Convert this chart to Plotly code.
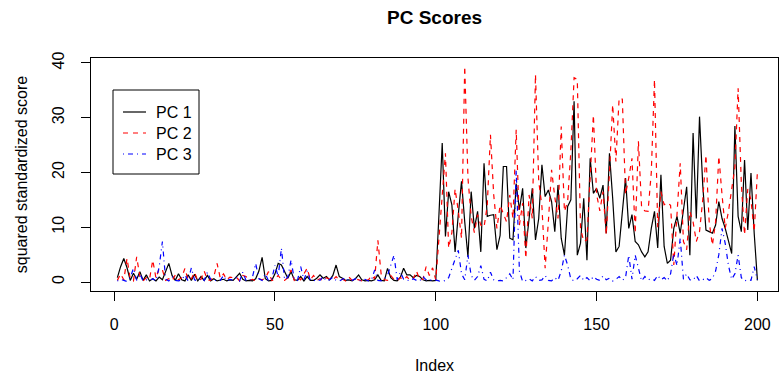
import plotly.graph_objects as go

# Observation index
index = list(range(1, 201))

# Squared standardized scores for the first three principal components
pc1 = [
    0.8, 2.8, 4.3, 2.6, 0.3, 1.6, 0.5, 1.9, 0.3, 1.3,
    0.2, 0.6, 0.2, 0.9, 0.4, 1.8, 3.4, 1.2, 0.3, 1.5,
    0.4, 0.2, 1.3, 0.3, 1.4, 0.2, 1.0, 0.3, 1.2, 0.2,
    0.6, 0.2, 0.3, 0.5, 0.2, 0.4, 0.3, 1.0, 1.6, 0.5,
    0.2, 0.3, 0.2, 0.6, 2.0, 4.5, 0.6, 0.2, 0.3, 1.5,
    3.4, 3.1, 1.9, 0.7, 1.9, 0.4, 0.3, 1.0, 0.2, 1.0,
    0.3, 0.3, 0.7, 1.3, 0.7, 1.0, 0.4, 1.2, 3.1, 1.0,
    0.7, 0.3, 0.4, 0.2, 0.6, 1.3, 0.4, 0.2, 0.3, 0.2,
    0.4, 1.3, 0.3, 0.2, 2.5, 0.8, 0.3, 0.2, 0.9, 2.5,
    1.3, 1.3, 0.8, 1.2, 1.0, 0.4, 0.2, 0.3, 0.2, 0.3,
    12.5, 25.4, 8.3, 16.5, 14.1, 5.5, 12.3, 18.4, 11.0, 4.6,
    16.5, 9.8, 12.9, 5.5, 21.7, 12.0, 12.2, 12.3, 5.9, 8.5,
    21.1, 21.1, 8.0, 7.7, 18.0, 13.2, 17.1, 6.2, 11.5, 17.1,
    7.7, 11.6, 21.4, 15.6, 16.8, 14.7, 9.2, 17.7, 8.0, 4.9,
    13.8, 15.0, 33.0, 4.9, 7.1, 15.3, 4.0, 22.6, 16.2, 17.1,
    15.3, 17.7, 8.9, 23.5, 15.3, 5.5, 6.5, 13.0, 19.0, 9.8,
    12.3, 7.4, 6.8, 5.5, 4.6, 5.5, 9.8, 12.9, 6.2, 19.6,
    6.5, 3.4, 4.0, 9.8, 12.0, 8.9, 13.0, 17.4, 4.9, 27.2,
    11.6, 30.2, 17.7, 9.5, 9.2, 8.9, 10.4, 14.7, 11.6, 9.8,
    7.5, 5.2, 28.5, 12.0, 9.2, 22.3, 9.5, 19.9, 8.9, 0.3,
]

pc2 = [
    0.3, 1.5, 0.4, 4.3, 0.6, 0.2, 4.6, 1.0, 0.2, 0.8,
    0.5, 4.0, 0.7, 2.5, 2.2, 0.3, 0.6, 0.2, 1.3, 0.4,
    0.8, 2.5, 0.3, 0.6, 1.8, 0.2, 0.5, 2.0, 0.4, 0.3,
    1.0, 3.4, 0.7, 1.5, 0.4, 0.9, 0.8, 0.9, 0.2, 1.2,
    1.0, 0.3, 0.5, 0.2, 0.6, 0.4, 0.7, 1.9, 0.3, 0.5,
    1.2, 0.4, 0.3, 0.8, 2.2, 0.3, 0.9, 0.4, 1.5, 2.5,
    0.4, 1.2, 0.3, 0.6, 0.2, 0.8, 0.5, 0.4, 1.0, 0.3,
    0.5, 0.2, 0.9, 0.3, 0.6, 0.4, 0.2, 0.5, 0.3, 1.2,
    0.6, 7.6, 1.5, 0.4, 0.3, 1.2, 0.5, 0.2, 0.8, 0.4,
    1.0, 0.3, 0.6, 2.0, 0.4, 0.5, 2.8, 1.2, 2.6, 0.4,
    8.0, 16.0, 23.5, 6.2, 9.0, 17.0, 13.0, 8.0, 39.4, 19.0,
    12.0, 9.0, 12.3, 10.4, 10.0, 14.0, 26.9, 16.0, 9.8, 14.0,
    12.5, 11.0, 15.9, 11.6, 27.8, 10.4, 14.4, 4.3, 15.9, 11.6,
    37.9, 18.4, 13.8, 2.5, 11.0, 20.5, 15.5, 11.6, 28.4, 12.9,
    14.7, 24.0, 37.3, 37.0, 9.8, 7.4, 7.7, 18.0, 30.5, 16.0,
    13.0, 16.5, 8.6, 20.0, 32.4, 22.0, 33.6, 33.4, 16.0, 19.0,
    22.6, 8.9, 25.7, 13.5, 13.0, 12.9, 20.0, 37.0, 10.0, 16.5,
    14.1, 14.5, 14.0, 3.1, 12.0, 21.7, 7.4, 5.9, 12.9, 11.0,
    7.4, 9.2, 15.0, 23.2, 11.0, 6.7, 11.0, 23.0, 15.9, 9.8,
    12.9, 17.0, 21.0, 35.4, 18.0, 8.6, 17.0, 15.0, 9.2, 20.2,
]

pc3 = [
    0.2, 0.5, 0.3, 0.1, 0.8, 2.5, 0.3, 1.5, 0.2, 0.4,
    0.3, 0.6, 0.2, 2.8, 7.4, 0.5, 0.2, 1.0, 0.3, 0.2,
    0.4, 1.3, 0.2, 2.6, 0.4, 0.2, 0.8, 0.3, 1.8, 0.5,
    0.2, 0.4, 0.3, 1.2, 0.2, 0.5, 0.3, 0.8, 0.2, 1.8,
    0.3, 0.2, 0.9, 3.4, 0.6, 0.3, 1.5, 0.2, 0.5, 3.1,
    1.0, 6.2, 0.4, 0.9, 4.0, 0.5, 0.3, 2.8, 0.4, 2.0,
    0.3, 0.2, 0.5, 0.3, 1.0, 0.2, 0.4, 0.9, 0.3, 0.2,
    0.5, 0.8, 0.2, 0.3, 0.6, 0.2, 0.3, 0.5, 0.2, 0.4,
    2.2, 0.3, 0.2, 0.6, 1.2, 3.0, 4.9, 0.4, 1.8, 0.5,
    0.3, 0.2, 0.6, 0.3, 0.2, 1.0, 0.4, 0.2, 0.5, 0.3,
    0.2, 0.1, 0.3, 0.8, 2.5, 4.0, 5.8, 1.5, 0.4, 4.9,
    1.2, 0.3, 1.0, 3.0, 0.5, 0.2, 1.8, 0.4, 0.2, 0.3,
    0.2, 0.8, 1.5, 0.4, 20.5, 2.0, 0.1, 0.3, 0.6, 0.2,
    1.0, 0.3, 0.4, 1.2, 0.3, 0.2, 0.8, 0.3, 2.0, 4.9,
    3.1, 0.5, 0.2, 0.6, 1.2, 0.3, 0.8, 0.2, 1.0, 0.5,
    0.3, 1.1, 0.4, 0.7, 0.2, 0.5, 1.0, 0.3, 0.8, 4.9,
    0.5, 4.9, 2.5, 0.2, 1.0, 0.4, 0.6, 0.3, 1.2, 0.4,
    0.8, 0.2, 1.5, 5.2, 3.0, 8.0, 0.5, 1.5, 0.4, 0.3,
    1.2, 0.2, 0.4, 0.8, 0.3, 0.6, 2.0, 5.0, 9.8, 7.0,
    3.0, 0.5, 1.5, 4.9, 0.8, 0.2, 0.4, 0.3, 2.8, 0.4,
]

series_names = ["PC 1", "PC 2", "PC 3"]
series_colors = ["black", "red", "blue"]
series_dashes = ["solid", "5px,5px", "1px,4px,5px,4px"]

x_ticks = [0, 50, 100, 150, 200]
y_ticks = [0, 10, 20, 30, 40]

FONT = "Liberation Sans, Arial, Helvetica, sans-serif"
W, H = 781, 378
ML, MR, MT, MB = 91, 3, 58, 87
PW, PH = W - ML - MR, H - MT - MB


def px_x(p):
    """Pixel column -> paper x."""
    return (p - ML) / PW


def px_y(p):
    """Pixel row -> paper y."""
    return (H - MB - p) / PH


fig = go.Figure()
for name, vals, col, dash in zip(series_names, [pc1, pc2, pc3],
                                 series_colors, series_dashes):
    fig.add_trace(go.Scatter(x=index, y=vals, mode="lines", name=name,
                             line=dict(color=col, width=1.2, dash=dash),
                             showlegend=False))

# Boxed legend in the upper-left corner of the plotting region
shapes = [dict(type="rect", xref="paper", yref="paper",
               x0=px_x(113), x1=px_x(199), y0=px_y(174), y1=px_y(90),
               line=dict(color="black", width=1), fillcolor="white",
               layer="above")]
annotations = []
for k, (name, col, dash) in enumerate(zip(series_names, series_colors,
                                          series_dashes)):
    row = 112 + 21 * k
    shapes.append(dict(type="line", xref="paper", yref="paper",
                       x0=px_x(123), x1=px_x(146), y0=px_y(row), y1=px_y(row),
                       line=dict(color=col, width=1.2, dash=dash),
                       layer="above"))
    annotations.append(dict(text=name, xref="paper", yref="paper",
                            x=px_x(154), y=px_y(row), xanchor="left",
                            yanchor="middle", showarrow=False,
                            font=dict(family=FONT, size=16, color="black")))

axis_common = dict(
    showline=True, linecolor="black", linewidth=1, mirror=True,
    ticks="outside", ticklen=9, tickcolor="black", tickwidth=1,
    showgrid=False, zeroline=False,
    tickfont=dict(family=FONT, size=16, color="black"),
)

fig.update_layout(
    width=W, height=H,
    margin=dict(l=ML, r=MR, t=MT, b=MB),
    paper_bgcolor="white", plot_bgcolor="white",
    font=dict(family=FONT, size=16, color="black"),
    title=dict(text="<b>PC Scores</b>", x=0.5, xref="paper",
               y=1 - 17 / H, yanchor="middle",
               font=dict(family=FONT, size=19, color="black")),
    xaxis=dict(axis_common, range=[-7.2, 206.4], tickvals=x_ticks,
               ticklabelstandoff=10,
               title=dict(text="Index", standoff=27,
                          font=dict(family=FONT, size=16))),
    yaxis=dict(axis_common, range=[-1.64, 40.91], tickvals=y_ticks,
               tickangle=-90, ticklabelstandoff=11,
               title=dict(text="squared standardized score", standoff=17,
                          font=dict(family=FONT, size=16))),
    shapes=shapes,
    annotations=annotations,
    showlegend=False,
)

fig.write_html("out.html")
